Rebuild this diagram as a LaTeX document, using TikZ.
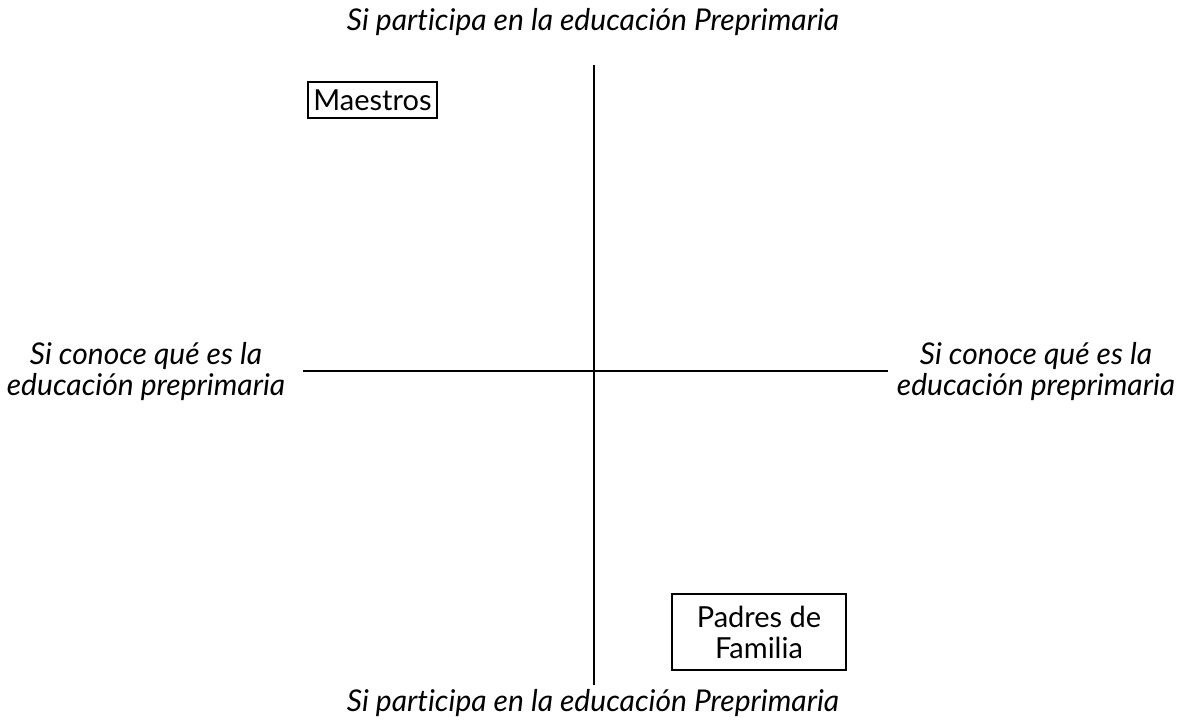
\documentclass[tikz,border=0pt]{standalone}
\usepackage{fontspec}
\setmainfont{Lato}[Ligatures={NoCommon}]
\begin{document}
\begin{tikzpicture}[x=1pt,y=-1pt,
  axis/.style={line width=2pt},
  lbl/.style={font=\fontsize{30}{31}\selectfont\itshape, align=center, inner sep=0pt},
  boxed/.style={draw, line width=1.6pt, font=\fontsize{29}{31}\selectfont, align=center, inner sep=0pt}]
\useasboundingbox (0,0) rectangle (1184,725);
\coordinate (vt) at (594,65);
\coordinate (vb) at (594,685);
\coordinate (hl) at (303,371);
\coordinate (hr) at (888,371);
\draw[axis] (vt) -- (vb);
\draw[axis] (hl) -- (hr);
\node[lbl] (top) at (593,22) {Si participa en la educación Preprimaria};
\node[lbl] (bot) at (593,703) {Si participa en la educación Preprimaria};
\node[lbl] (left) at (146,372) {Si conoce qué es la\\educación preprimaria};
\node[lbl] (right) at (1036,372) {Si conoce qué es la\\educación preprimaria};
\node[boxed, minimum width=129pt, minimum height=36pt] (m) at (372.5,100) {Maestros};
\node[boxed, minimum width=174pt, minimum height=76pt] (p) at (759,632) {Padres de\\Familia};
\end{tikzpicture}
\end{document}
